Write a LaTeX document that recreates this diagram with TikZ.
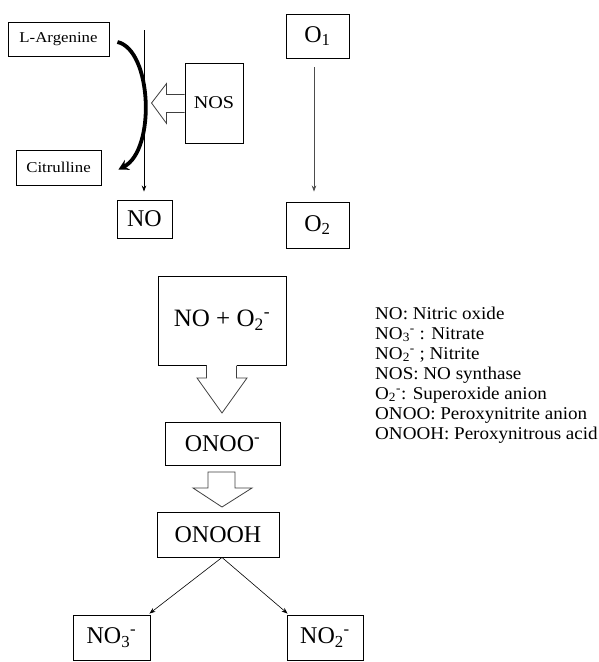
\documentclass[tikz,border=0pt]{standalone}
\usepackage{fontspec}
\setmainfont{Liberation Serif}
\newfontfamily\stretchfont[FakeStretch=1.12]{Liberation Serif}
\newfontfamily\legfont[FakeStretch=1.06]{Liberation Serif}
\usetikzlibrary{shadows,arrows.meta,calc}
\newcommand\subsup[2]{\textsubscript{#1}\textsuperscript{#2}}
\begin{document}
\begin{tikzpicture}[x=1pt,y=-1pt,
  box/.style={draw, fill=white, line width=0.9pt, inner sep=0pt,
    drop shadow={shadow xshift=1.3pt, shadow yshift=-1.3pt, fill=black, opacity=1}},
  big/.style={box, font=\fontsize{24}{28}\selectfont},
  smallbox/.style={box, font=\stretchfont\fontsize{15}{18}\selectfont},
  arr/.style={-{Stealth[length=6pt,width=4.5pt]}, line width=0.7pt},
  hollow/.style={draw=black!75, line width=0.8pt, fill=white, line join=miter},
  legend/.style={anchor=base west, inner sep=0pt,
    font=\legfont\fontsize{18}{20}\selectfont}]
\fill[white] (0,0) rectangle (598,662);
\useasboundingbox (0,0) rectangle (598,662);
% top left group
\node[smallbox, minimum width=101pt, minimum height=34pt] (larg) at (58.5,39) {L-Argenine};
\node[smallbox, minimum width=85pt, minimum height=35pt] (citr) at (58.5,167.5) {Citrulline};
\node[box, font=\stretchfont\fontsize{18}{20}\selectfont, minimum width=58pt, minimum height=80pt] (nos) at (214,103) {NOS};
\node[big, minimum width=55pt, minimum height=38pt] (no) at (144.5,219) {NO};
\coordinate (vtop) at (144,30);
\draw[arr] (vtop) -- ([xshift=-0.5pt,yshift=8pt]no.north);
% curved thick arrow
\draw[line width=3.8pt, -{Stealth[length=10pt,width=11pt]}]
  ([xshift=8pt,yshift=-3pt]larg.east) .. controls (152,50) and (156,150) .. ([xshift=17pt,yshift=-2pt]citr.east);
% hollow arrow from NOS
\draw[hollow] (nos.west) ++(0,-8.5) -- ++(-18,0) -- ++(0,-11) -- ++(-15,19.5) -- ++(15,20.5) -- ++(0,-11) -- ++(18,0);
% O1 -> O2
\node[big, minimum width=63pt, minimum height=44pt] (o1) at (317.5,36) {O\textsubscript{1}};
\node[big, minimum width=63pt, minimum height=46pt] (o2) at (317.5,225) {O\textsubscript{2}};
\draw[arr, black!70] ([xshift=-3.5pt,yshift=-9pt]o1.south) -- ([xshift=-3.5pt,yshift=10pt]o2.north);
% middle chain
\node[big, font=\fontsize{25}{28}\selectfont, minimum width=128pt, minimum height=89pt] (noo2) at (222,320.5) {NO + O\subsup{2}{-}};
\fill[white] (206.5,362) rectangle (236.5,368);
\draw[hollow] (206.5,365.5) -- (206.5,378) -- (197,378) -- (222,413) -- (247,378) -- (236.5,378) -- (236.5,365.5);
\node[big, minimum width=115pt, minimum height=43pt] (onoo) at (222.5,443.5) {ONOO\textsuperscript{-}};
\draw[hollow] (208,472) -- (208,488) -- (193,488) -- (222,507) -- (252,488) -- (235,488) -- (235,472) -- cycle;
\node[big, minimum width=122pt, minimum height=45pt] (onooh) at (218,534.5) {ONOOH};
\node[big, minimum width=77pt, minimum height=45pt] (no3) at (111.5,637.5) {NO\subsup{3}{-}};
\node[big, minimum width=76pt, minimum height=45pt] (no2) at (325,637.5) {NO\subsup{2}{-}};
\draw[arr, line width=0.6pt] ([xshift=4pt]onooh.south) -- ([xshift=-1pt,yshift=1pt]no3.north east);
\draw[arr, line width=0.6pt] ([xshift=4pt]onooh.south) -- ([xshift=1pt,yshift=1pt]no2.north west);
% legend
\node[legend] (leg1) at (375,319) {NO: Nitric oxide};
\node[legend] (leg2) at (375,339) {NO\subsup{3}{-} : Nitrate};
\node[legend] (leg3) at (375,359) {NO\subsup{2}{-} ; Nitrite};
\node[legend] (leg4) at (375,379) {NOS: NO synthase};
\node[legend] (leg5) at (375,399) {O\subsup{2}{-}: Superoxide anion};
\node[legend] (leg6) at (375,419) {ONOO: Peroxynitrite anion};
\node[legend] (leg7) at (375,439) {ONOOH: Peroxynitrous acid};
\end{tikzpicture}
\end{document}
